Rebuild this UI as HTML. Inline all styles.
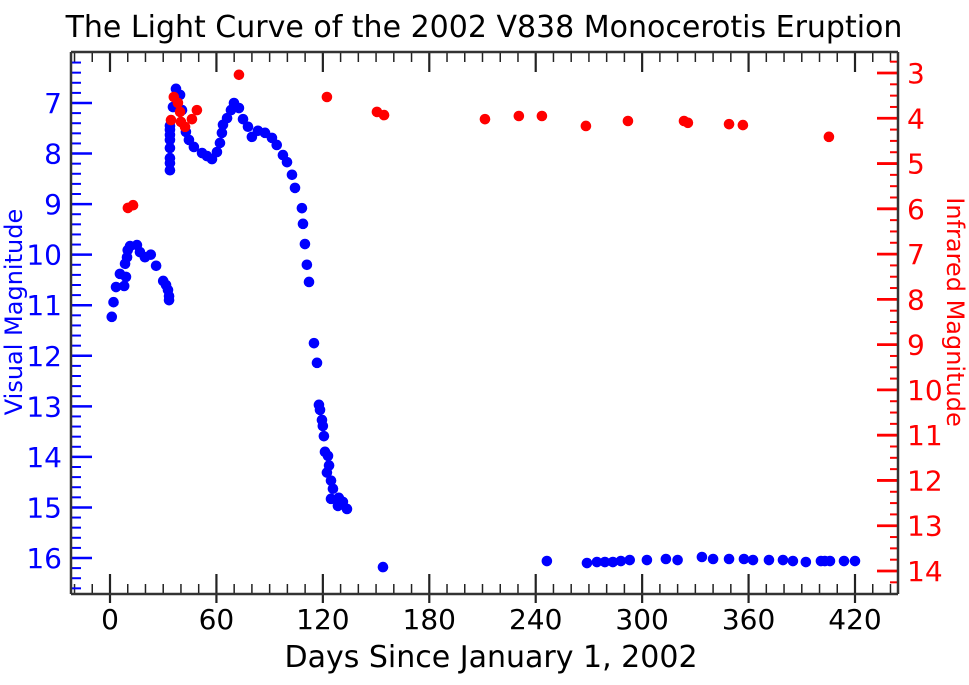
<!DOCTYPE html>
<html><head><meta charset="utf-8"><style>
body{margin:0;background:#fff;}
svg text{font-family:"DejaVu Sans","Liberation Sans",sans-serif;}
</style></head><body>
<svg id="chart" width="969" height="680" xmlns="http://www.w3.org/2000/svg">
<text x="484" y="37" font-size="30" text-anchor="middle" fill="#000">The Light Curve of the 2002 V838 Monocerotis Eruption</text>
<text x="491" y="667" font-size="30" text-anchor="middle" fill="#000">Days Since January 1, 2002</text>
<text transform="translate(22,312) rotate(-90)" font-size="24" text-anchor="middle" fill="#0000ff">Visual Magnitude</text>
<text transform="translate(947,312) rotate(90)" font-size="24" text-anchor="middle" fill="#ff0000">Infrared Magnitude</text>
<g id="axes"></g>
<g id="marks"></g>
</svg>
<script>
const visDays=[1,2,3.4,5.6,8,9,8.5,9.6,10,11.3,15.2,16.9,19.7,23,26,30,31.6,32.7,33.3,33.3,33.8,33.8,33.8,33.8,33.8,33.8,33.8,33.8,37.2,39.5,35.5,40.6,42.8,44.5,47.3,51.9,54.7,57.5,60.3,62,63.1,63.7,66,68.2,69.9,72.7,75,77.8,80,83.4,87.4,91.3,94,97.5,99.8,102.6,104.3,108.2,108.8,109.9,111,112.2,115,116.7,117.8,118.4,119.5,120,120.6,121.2,122.9,123.5,122.3,124.6,125.7,124.6,129,128.5,131.3,133.6,153.9,246.3,268.9,274.5,279,283.5,288,293,302.7,313.4,320,333.7,340,349,357.4,362.5,371.5,379.4,385,392.3,400.8,403,405.9,413.8,420];
const visMags=[11.23,10.94,10.64,10.38,10.62,10.44,10.18,10.05,9.91,9.83,9.81,9.95,10.05,10.0,10.22,10.52,10.6,10.7,10.82,10.9,8.33,8.19,8.09,7.89,7.73,7.63,7.53,7.45,6.72,6.84,7.08,7.14,7.57,7.73,7.87,7.99,8.05,8.11,7.97,7.79,7.59,7.43,7.3,7.14,7.0,7.1,7.32,7.47,7.67,7.55,7.59,7.69,7.83,8.03,8.17,8.42,8.68,9.08,9.39,9.79,10.2,10.54,11.75,12.14,12.97,13.07,13.27,13.39,13.59,13.9,13.98,14.17,14.31,14.47,14.63,14.83,14.81,14.97,14.89,15.03,16.18,16.06,16.1,16.08,16.08,16.08,16.06,16.04,16.04,16.02,16.04,15.98,16.02,16.02,16.02,16.04,16.04,16.04,16.06,16.08,16.06,16.06,16.06,16.06,16.06];
const irDays=[10.1,13,34.4,36,38.3,39.5,40,42.3,46.2,49,72.7,122.3,150.5,154.5,211.4,230.5,243.5,268.3,292,323.6,325.8,349,356.8,405.3];
const irMags=[5.98,5.92,4.04,3.53,3.66,3.86,4.08,4.19,4.02,3.82,3.04,3.53,3.86,3.93,4.02,3.95,3.95,4.17,4.06,4.06,4.1,4.13,4.15,4.41];
const xTicks=[0,60,120,180,240,300,360,420];
const visTicks=[7,8,9,10,11,12,13,14,15,16];
const irTicks=[3,4,5,6,7,8,9,10,11,12,13,14];

const L=71,R=898,T=52,B=594;
const x=d=>110+(d)*(855-110)/420;
const yV=m=>103+(m-7)*(558-103)/9;
const yI=m=>73+(m-3)*(571-73)/11;
const NS='http://www.w3.org/2000/svg';
const ax=document.getElementById('axes'),mk=document.getElementById('marks');
function el(tag,attrs,parent){const e=document.createElementNS(NS,tag);for(const k in attrs)e.setAttribute(k,attrs[k]);parent.appendChild(e);return e;}
function line(x1,y1,x2,y2,c,w){return el('line',{x1,y1,x2,y2,stroke:c,'stroke-width':w||1.5},ax);}
for(let d=-20;d<=440;d+=10){const px=x(d);if(px<L||px>R)continue;const major=d%60===0;
 line(px,B-(major?20:10),px,B+(major?9:0),'#222',major?2.2:1.5);line(px,T,px,T+(major?20:10),'#222',major?2.2:1.5);}
xTicks.forEach(v=>{const t=el('text',{x:x(v),y:629,'font-size':28,'text-anchor':'middle',fill:'#000'},ax);t.textContent=v;
 });
for(let i=31;i<=84;i++){const m=i/5;const py=yV(m);if(py<T+2||py>B-2)continue;const major=i%5===0;
 line(L,py,L+(major?21:10),py,'#0000ff',major?2.5:2);}
visTicks.forEach(v=>{const t=el('text',{x:62,y:yV(v)+10,'font-size':28,'text-anchor':'end',fill:'#0000ff'},ax);t.textContent=v;
 });
for(let i=11;i<=58;i++){const m=i/4;const py=yI(m);if(py<T+2||py>B-2)continue;const major=i%4===0;
 line(R-(major?21:8),py,R,py,'#ff0000',major?2.8:2);}
irTicks.forEach(v=>{const t=el('text',{x:907,y:yI(v)+10,'font-size':28,'text-anchor':'start',fill:'#ff0000'},ax);t.textContent=v;
 });
let a;
a=line(L,B,R,B,'#333',2.5);
a=line(L,T,R,T,'#333',2.5);
a=line(L,T,L,B,'#333',2.5);
a=line(R,T,R,B,'#333',2.5);
visDays.forEach((d,i)=>{const c=el('circle',{cx:x(d),cy:yV(visMags[i]),r:5.3,fill:'#0000ff'},mk);
 });
irDays.forEach((d,i)=>{const c=el('circle',{cx:x(d),cy:yI(irMags[i]),r:5.3,fill:'#ff0000'},mk);
 });
</script>
</body></html>
